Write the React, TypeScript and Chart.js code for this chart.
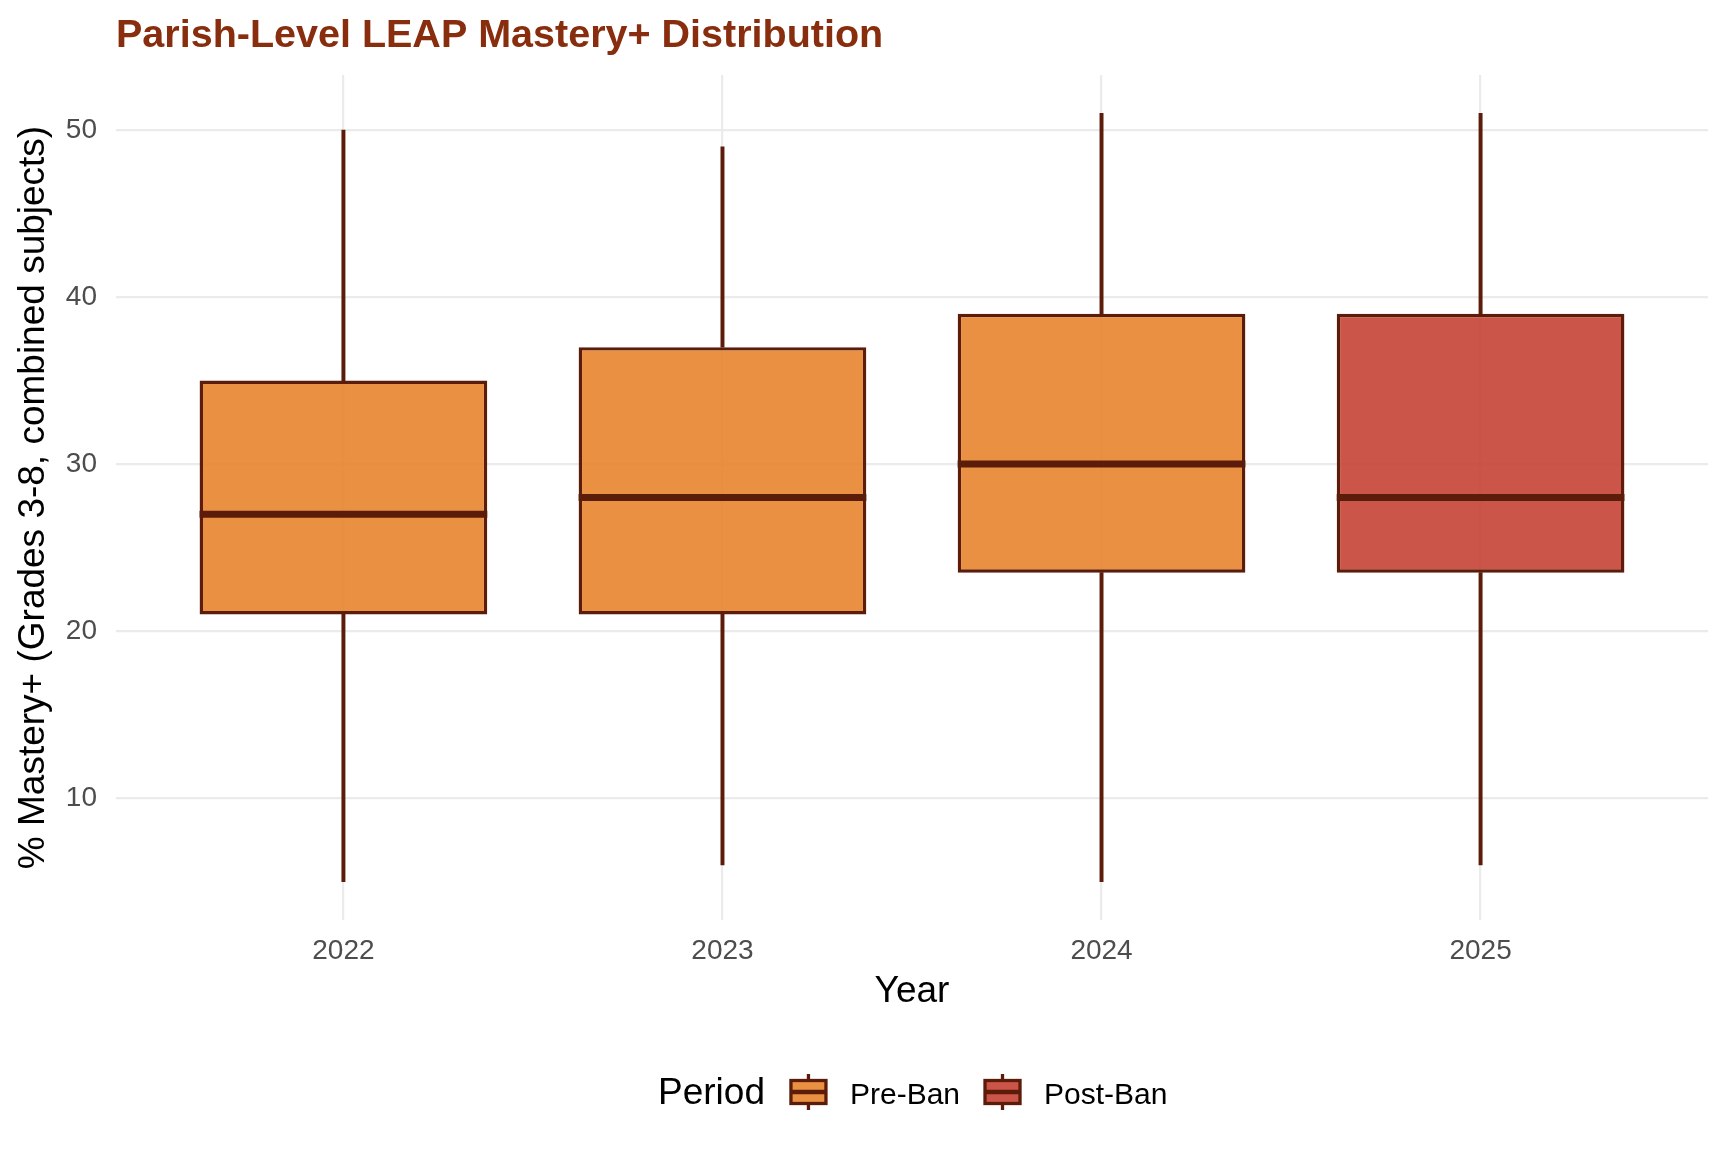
import React, { useEffect, useRef } from "react";
import { Chart, registerables } from "chart.js";

Chart.register(...registerables);

// box-plot summary per year
const years = ["2022", "2023", "2024", "2025"];
const periods = ["Pre-Ban", "Pre-Ban", "Pre-Ban", "Post-Ban"];
const whiskerLow = [5, 6, 5, 6];
const q1 = [21, 21, 23.5, 23.5];
const medians = [27, 28, 30, 28];
const q3 = [35, 37, 39, 39];
const whiskerHigh = [50, 49, 51, 51];
const yTicks = [10, 20, 30, 40, 50];
const legendItems = ["Pre-Ban", "Post-Ban"];

const FONT = "'Liberation Sans', Arial, Helvetica, sans-serif";
const edge = "#5C1C0A";
const periodFill: Record<string, string> = {
  "Pre-Ban": "rgba(232, 132, 47, 0.9)",
  "Post-Ban": "rgba(197, 67, 52, 0.9)",
};

// thick median line across each box
const medianPlugin = {
  id: "medianLines",
  afterDatasetsDraw(chart: any) {
    const meta = chart.getDatasetMeta(0);
    const yScale = chart.scales.y;
    const ctx = chart.ctx;
    ctx.save();
    ctx.strokeStyle = edge;
    ctx.lineWidth = 7;
    ctx.lineCap = "butt";
    meta.data.forEach((bar: any, i: number) => {
      const { x, width } = bar.getProps(["x", "width"], true);
      const py = yScale.getPixelForValue(medians[i]);
      ctx.beginPath();
      ctx.moveTo(x - width / 2, py);
      ctx.lineTo(x + width / 2, py);
      ctx.stroke();
    });
    ctx.restore();
  },
};

// ggplot-style legend at the bottom
const legendPlugin = {
  id: "periodLegend",
  afterDraw(chart: any) {
    const ctx = chart.ctx;
    const baseline = 1104;
    const mid = 1092;
    let x = 658;
    ctx.save();
    ctx.textAlign = "left";
    ctx.textBaseline = "alphabetic";
    ctx.fillStyle = "#000";
    ctx.font = `37px ${FONT}`;
    ctx.fillText("Period", x, baseline);
    x += ctx.measureText("Period").width + 26;

    legendItems.forEach((name) => {
      const w = 35;
      const h = 23;
      ctx.strokeStyle = edge;
      ctx.lineWidth = 3.3;
      ctx.beginPath();
      ctx.moveTo(x + w / 2, mid - 18);
      ctx.lineTo(x + w / 2, mid + 18);
      ctx.stroke();
      ctx.fillStyle = "#fff";
      ctx.fillRect(x, mid - h / 2, w, h);
      ctx.fillStyle = periodFill[name];
      ctx.fillRect(x, mid - h / 2, w, h);
      ctx.strokeRect(x, mid - h / 2, w, h);
      ctx.lineWidth = 4.5;
      ctx.beginPath();
      ctx.moveTo(x, mid);
      ctx.lineTo(x + w, mid);
      ctx.stroke();
      x += w + 24;

      ctx.font = `30px ${FONT}`;
      ctx.fillStyle = "#000";
      ctx.fillText(name, x, baseline);
      x += ctx.measureText(name).width + 25;
    });
    ctx.restore();
  },
};

const App = () => {
  const chartRef = useRef<HTMLCanvasElement | null>(null);

  useEffect(() => {
    document.body.style.margin = "0";
    const canvas = chartRef.current;
    if (!canvas) return;

    Chart.defaults.font.family = FONT;

    const chart = new Chart(canvas, {
      type: "bar",
      data: {
        datasets: [
          {
            label: "Box",
            data: years.map((_, i) => ({ x: i + 1, y: [q1[i], q3[i]] })) as any,
            backgroundColor: periods.map((p) => periodFill[p]),
            borderColor: edge,
            borderWidth: 3.4,
            borderSkipped: false,
            barPercentage: 0.759,
            categoryPercentage: 1,
            grouped: false,
          },
          {
            label: "Lower whisker",
            data: years.map((_, i) => ({ x: i + 1, y: [whiskerLow[i], q1[i]] })) as any,
            backgroundColor: edge,
            borderWidth: 0,
            barThickness: 3.3,
            grouped: false,
          },
          {
            label: "Upper whisker",
            data: years.map((_, i) => ({ x: i + 1, y: [q3[i], whiskerHigh[i]] })) as any,
            backgroundColor: edge,
            borderWidth: 0,
            barThickness: 3.3,
            grouped: false,
          },
        ],
      },
      options: {
        animation: false,
        responsive: false,
        layout: { padding: { left: 0, right: 20, top: 0, bottom: 138 } },
        plugins: {
          legend: { display: false },
          tooltip: { enabled: false },
          title: {
            display: true,
            text: "Parish-Level LEAP Mastery+ Distribution",
            align: "start",
            fullSize: false,
            color: "#882D0D",
            font: { family: FONT, size: 39.5, weight: "bold" },
            padding: { top: 12, bottom: 15.6 },
          },
        },
        scales: {
          x: {
            type: "linear",
            min: 0.4,
            max: 4.6,
            offset: false,
            afterBuildTicks: (scale: any) => {
              scale.ticks = years.map((_, i) => ({ value: i + 1 }));
            },
            afterFit: (scale: any) => {
              scale.height = 94;
            },
            ticks: {
              callback: (v: any) => years[Number(v) - 1] ?? "",
              color: "#4D4D4D",
              font: { size: 28 },
              padding: 14,
              maxRotation: 0,
              autoSkip: false,
            },
            grid: { color: "#EBEBEB", lineWidth: 2.2, drawTicks: false, offset: false },
            border: { display: false },
            title: {
              display: true,
              text: "Year",
              color: "#000",
              font: { size: 37 },
              padding: { top: 2, bottom: 0 },
            },
          },
          y: {
            type: "linear",
            min: 2.7,
            max: 53.3,
            afterBuildTicks: (scale: any) => {
              scale.ticks = yTicks.map((v) => ({ value: v }));
            },
            afterFit: (scale: any) => {
              scale.width = 116;
            },
            ticks: {
              color: "#4D4D4D",
              font: { size: 28 },
              padding: 19,
            },
            grid: { color: "#EBEBEB", lineWidth: 2.2, drawTicks: false },
            border: { display: false },
            title: {
              display: true,
              text: "% Mastery+ (Grades 3-8, combined subjects)",
              color: "#000",
              font: { size: 37 },
              padding: { top: 12, bottom: 0 },
            },
          },
        },
      },
      plugins: [medianPlugin, legendPlugin],
    });

    return () => {
      chart.destroy();
    };
  }, []);

  return (
    <div style={{ width: 1728, height: 1152, background: "#fff" }}>
      <canvas ref={chartRef} width={1728} height={1152} style={{ display: "block" }}></canvas>
    </div>
  );
};

export default App;
